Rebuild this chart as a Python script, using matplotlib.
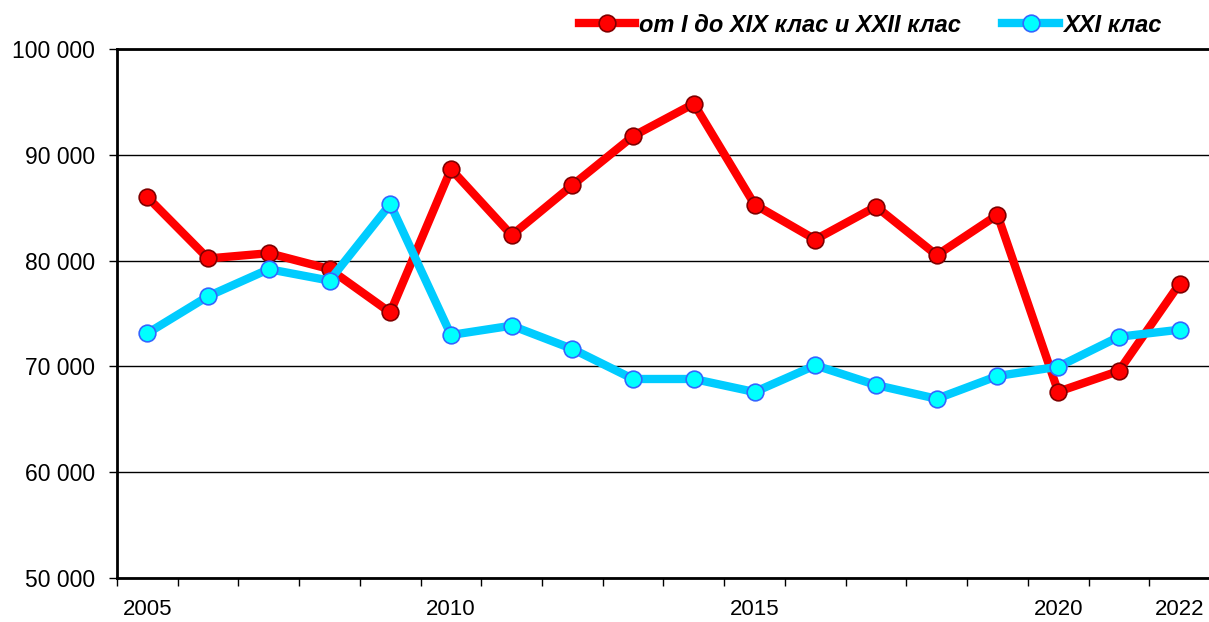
import matplotlib
matplotlib.use("Agg")
import matplotlib.pyplot as plt
from matplotlib.ticker import FuncFormatter, FixedLocator

years = list(range(2005, 2023))
shown_years = [2005, 2010, 2015, 2020, 2022]
red_label = "от I до XIX клас и XXII клас"
cyan_label = "XXI клас"
red_values = [86000, 80200, 80700, 79200, 75100, 88650, 82400, 87130, 91770, 94830,
              85300, 81990, 85110, 80510, 84320, 67610, 69570, 77820]
cyan_values = [73130, 76630, 79190, 78110, 85340, 72970, 73850, 71650, 68810, 68810,
               67580, 70100, 68240, 66940, 69090, 69970, 72800, 73470]
y_ticks = [50000, 60000, 70000, 80000, 90000, 100000]

plt.rcParams['font.family'] = ['Liberation Sans', 'DejaVu Sans']

fig = plt.figure(figsize=(12.09, 6.22), dpi=100)
ax = fig.add_axes([117/1209, 1 - 578/622, 1093/1209, (578 - 49)/622])

x = list(range(len(years)))
ax.plot(x, red_values, color='#FF0000', lw=6, marker='o', ms=12,
        mfc='#FF0000', mec='#800000', mew=1.2, label=red_label, zorder=3,
        solid_joinstyle='round')
ax.plot(x, cyan_values, color='#00CCFF', lw=6, marker='o', ms=12,
        mfc='#00FFFF', mec='#3366FF', mew=1.2, label=cyan_label, zorder=4,
        solid_joinstyle='round')

ax.set_xlim(-0.5, len(years) - 0.5)
ax.set_ylim(y_ticks[0], y_ticks[-1])
ax.set_yticks(y_ticks)
ax.yaxis.set_major_formatter(FuncFormatter(lambda v, p: f"{int(v):,}".replace(",", " ")))
ax.grid(axis='y', color='black', lw=1)
ax.set_axisbelow(True)

# x ticks at category boundaries, labels at category centres
ax.xaxis.set_major_locator(FixedLocator([i - 0.5 for i in range(len(years) + 1)]))
ax.xaxis.set_major_formatter(FuncFormatter(lambda v, p: ""))
ax.xaxis.set_minor_locator(FixedLocator([years.index(y) for y in shown_years]))
ax.set_xticklabels([str(y) for y in shown_years], minor=True)
ax.tick_params(axis='x', which='major', length=6, width=1, direction='out')
ax.tick_params(axis='x', which='minor', length=0, pad=15, labelsize=16)
ax.tick_params(axis='y', length=6, width=1, direction='out', pad=10, labelsize=16.5)

for s in ['left', 'bottom']:
    ax.spines[s].set_linewidth(2)
ax.spines['top'].set_linewidth(2)
ax.spines['right'].set_visible(False)

leg = fig.legend(loc='center', bbox_to_anchor=(870/1209, 1 - 25/622), ncol=2,
                 frameon=False, handlelength=2.4, handletextpad=0.17,
                 columnspacing=1.74, prop={'weight': 'bold', 'style': 'italic', 'size': 17})

fig.savefig("out.png", dpi=100)
